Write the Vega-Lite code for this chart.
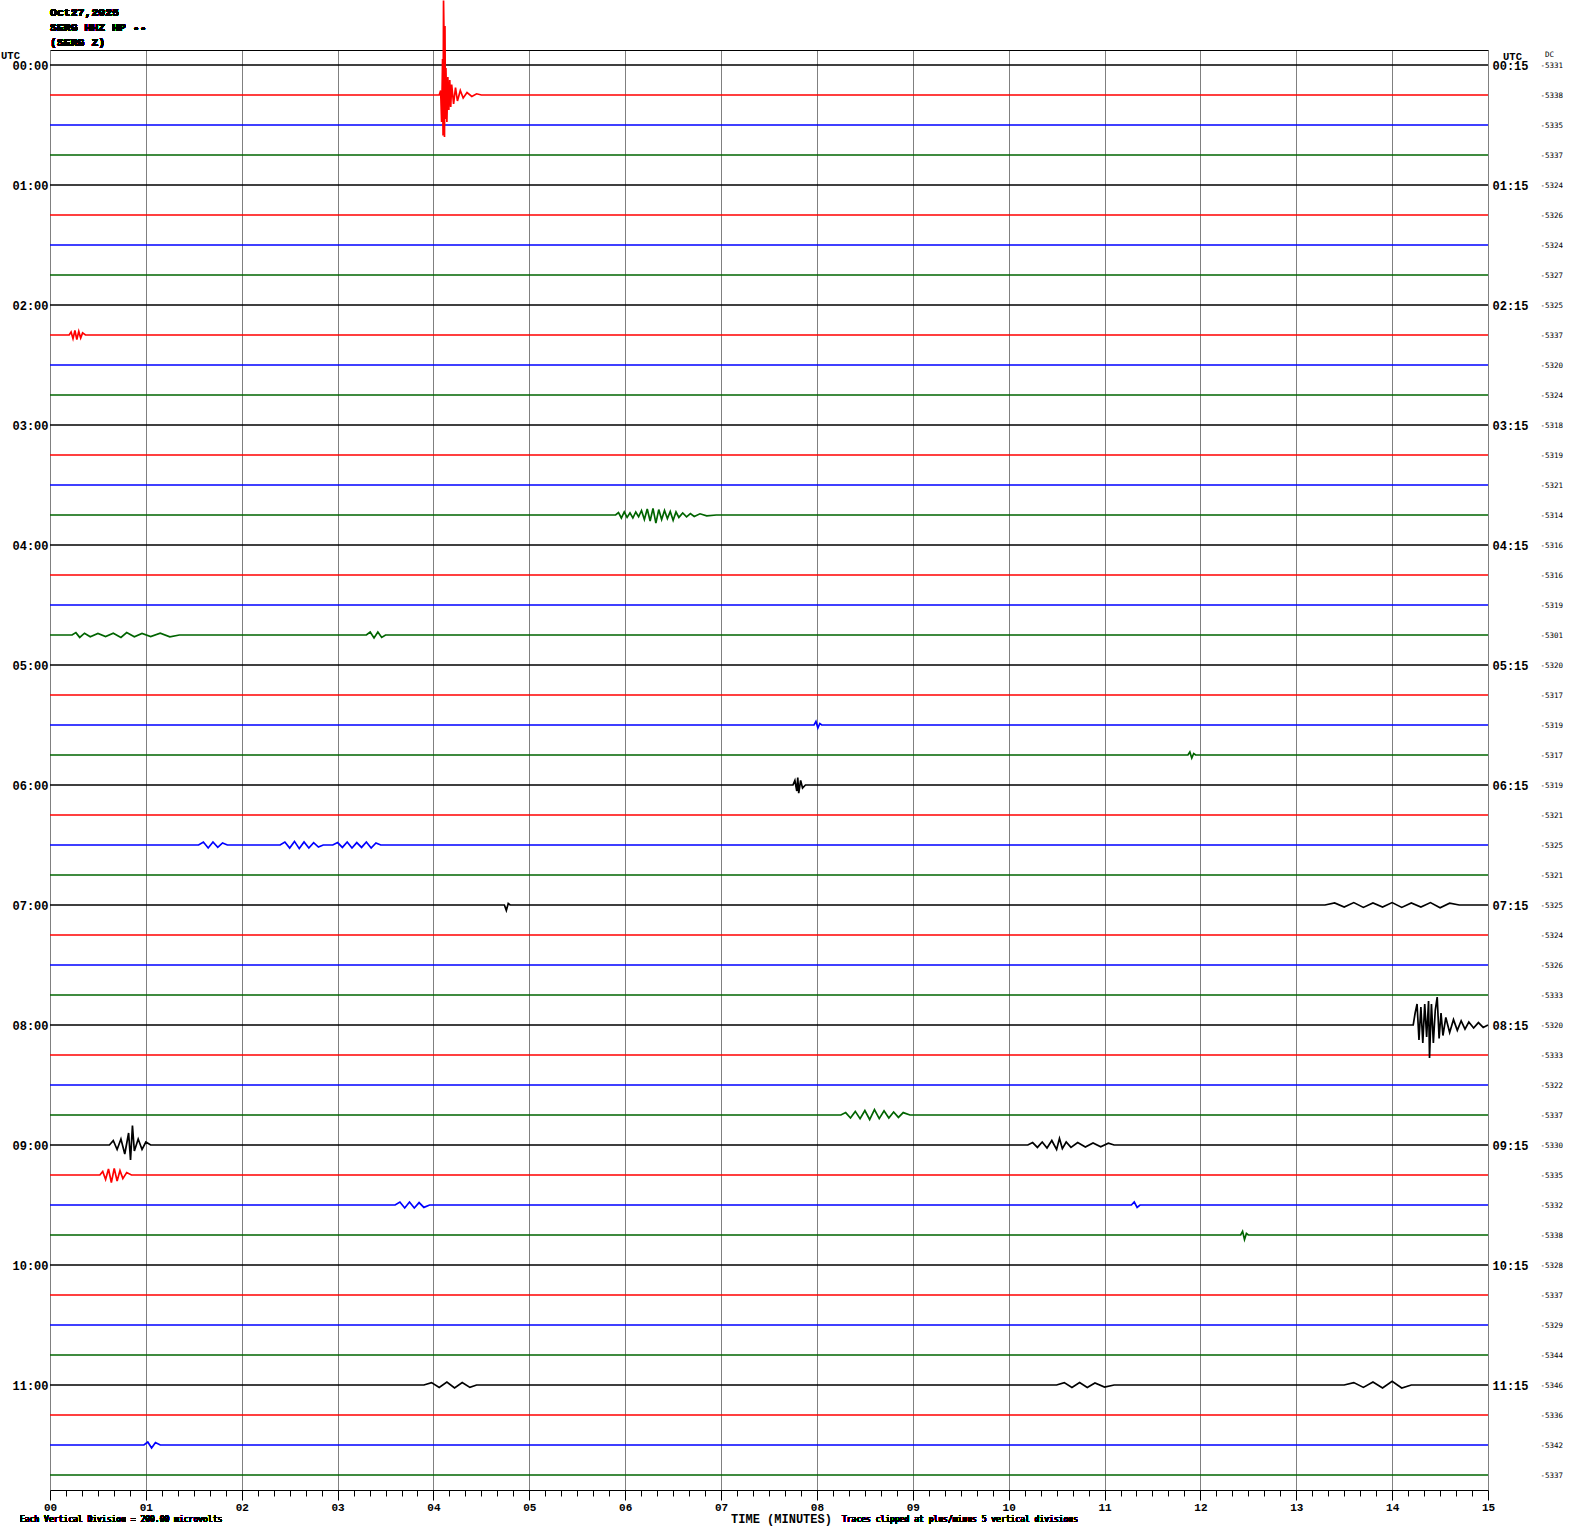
{
"$schema":"https://vega.github.io/schema/vega-lite/v6.json",
"width":1438,"height":1440,
"autosize":{"type":"none"},
"padding":{"left":50,"top":50,"right":82,"bottom":44},
"background":"#ffffff",
"config":{"view":{"stroke":null},"axis":{"labelFont":"Liberation Mono","titleFont":"Liberation Mono"}},
"data":{"values":[
{"r":0,"q":0,"t":0,"y":0},{"r":0,"q":0,"t":15,"y":0},
{"r":2,"q":2,"t":0,"y":2},{"r":2,"q":2,"t":15,"y":2},
{"r":3,"q":3,"t":0,"y":3},{"r":3,"q":3,"t":15,"y":3},
{"r":4,"q":0,"t":0,"y":4},{"r":4,"q":0,"t":15,"y":4},
{"r":5,"q":1,"t":0,"y":5},{"r":5,"q":1,"t":15,"y":5},
{"r":6,"q":2,"t":0,"y":6},{"r":6,"q":2,"t":15,"y":6},
{"r":7,"q":3,"t":0,"y":7},{"r":7,"q":3,"t":15,"y":7},
{"r":8,"q":0,"t":0,"y":8},{"r":8,"q":0,"t":15,"y":8},
{"r":10,"q":2,"t":0,"y":10},{"r":10,"q":2,"t":15,"y":10},
{"r":11,"q":3,"t":0,"y":11},{"r":11,"q":3,"t":15,"y":11},
{"r":12,"q":0,"t":0,"y":12},{"r":12,"q":0,"t":15,"y":12},
{"r":13,"q":1,"t":0,"y":13},{"r":13,"q":1,"t":15,"y":13},
{"r":14,"q":2,"t":0,"y":14},{"r":14,"q":2,"t":15,"y":14},
{"r":16,"q":0,"t":0,"y":16},{"r":16,"q":0,"t":15,"y":16},
{"r":17,"q":1,"t":0,"y":17},{"r":17,"q":1,"t":15,"y":17},
{"r":18,"q":2,"t":0,"y":18},{"r":18,"q":2,"t":15,"y":18},
{"r":20,"q":0,"t":0,"y":20},{"r":20,"q":0,"t":15,"y":20},
{"r":21,"q":1,"t":0,"y":21},{"r":21,"q":1,"t":15,"y":21},
{"r":25,"q":1,"t":0,"y":25},{"r":25,"q":1,"t":15,"y":25},
{"r":27,"q":3,"t":0,"y":27},{"r":27,"q":3,"t":15,"y":27},
{"r":29,"q":1,"t":0,"y":29},{"r":29,"q":1,"t":15,"y":29},
{"r":30,"q":2,"t":0,"y":30},{"r":30,"q":2,"t":15,"y":30},
{"r":31,"q":3,"t":0,"y":31},{"r":31,"q":3,"t":15,"y":31},
{"r":33,"q":1,"t":0,"y":33},{"r":33,"q":1,"t":15,"y":33},
{"r":34,"q":2,"t":0,"y":34},{"r":34,"q":2,"t":15,"y":34},
{"r":40,"q":0,"t":0,"y":40},{"r":40,"q":0,"t":15,"y":40},
{"r":41,"q":1,"t":0,"y":41},{"r":41,"q":1,"t":15,"y":41},
{"r":42,"q":2,"t":0,"y":42},{"r":42,"q":2,"t":15,"y":42},
{"r":43,"q":3,"t":0,"y":43},{"r":43,"q":3,"t":15,"y":43},
{"r":45,"q":1,"t":0,"y":45},{"r":45,"q":1,"t":15,"y":45},
{"r":47,"q":3,"t":0,"y":47},{"r":47,"q":3,"t":15,"y":47},
{"r":1,"q":1,"t":0,"y":1},{"r":1,"q":1,"t":4.06,"y":1},{"r":1,"q":1,"t":4.075,"y":0.85},{"r":1,"q":1,"t":4.085,"y":1.9},{"r":1,"q":1,"t":4.095,"y":-0.2},{"r":1,"q":1,"t":4.1,"y":2.35},{"r":1,"q":1,"t":4.105,"y":-2.15},{"r":1,"q":1,"t":4.11,"y":-1.0},{"r":1,"q":1,"t":4.115,"y":2.4},{"r":1,"q":1,"t":4.12,"y":-1.3},{"r":1,"q":1,"t":4.125,"y":1.8},{"r":1,"q":1,"t":4.13,"y":0.1},{"r":1,"q":1,"t":4.14,"y":1.9},{"r":1,"q":1,"t":4.15,"y":0.4},{"r":1,"q":1,"t":4.16,"y":1.5},{"r":1,"q":1,"t":4.17,"y":0.5},{"r":1,"q":1,"t":4.18,"y":1.4},{"r":1,"q":1,"t":4.19,"y":0.65},{"r":1,"q":1,"t":4.21,"y":1.3},{"r":1,"q":1,"t":4.23,"y":0.75},{"r":1,"q":1,"t":4.25,"y":1.2},{"r":1,"q":1,"t":4.28,"y":0.85},{"r":1,"q":1,"t":4.31,"y":1.1},{"r":1,"q":1,"t":4.35,"y":0.92},{"r":1,"q":1,"t":4.4,"y":1.05},{"r":1,"q":1,"t":4.45,"y":0.96},{"r":1,"q":1,"t":4.5,"y":1},{"r":1,"q":1,"t":15,"y":1},
{"r":9,"q":1,"t":0,"y":9},{"r":9,"q":1,"t":0.2,"y":9},{"r":9,"q":1,"t":0.22,"y":8.9},{"r":9,"q":1,"t":0.24,"y":9.12},{"r":9,"q":1,"t":0.26,"y":8.85},{"r":9,"q":1,"t":0.28,"y":9.15},{"r":9,"q":1,"t":0.3,"y":8.88},{"r":9,"q":1,"t":0.32,"y":9.1},{"r":9,"q":1,"t":0.34,"y":8.93},{"r":9,"q":1,"t":0.37,"y":9},{"r":9,"q":1,"t":15,"y":9},
{"r":15,"q":3,"t":0,"y":15},{"r":15,"q":3,"t":5.9,"y":15},{"r":15,"q":3,"t":5.93,"y":14.92},{"r":15,"q":3,"t":5.96,"y":15.1},{"r":15,"q":3,"t":5.99,"y":14.9},{"r":15,"q":3,"t":6.02,"y":15.08},{"r":15,"q":3,"t":6.05,"y":14.93},{"r":15,"q":3,"t":6.08,"y":15.1},{"r":15,"q":3,"t":6.11,"y":14.9},{"r":15,"q":3,"t":6.14,"y":15.06},{"r":15,"q":3,"t":6.17,"y":14.85},{"r":15,"q":3,"t":6.2,"y":15.15},{"r":15,"q":3,"t":6.23,"y":14.8},{"r":15,"q":3,"t":6.26,"y":15.2},{"r":15,"q":3,"t":6.29,"y":14.78},{"r":15,"q":3,"t":6.32,"y":15.27},{"r":15,"q":3,"t":6.35,"y":14.82},{"r":15,"q":3,"t":6.38,"y":15.15},{"r":15,"q":3,"t":6.41,"y":14.85},{"r":15,"q":3,"t":6.44,"y":15.12},{"r":15,"q":3,"t":6.47,"y":14.88},{"r":15,"q":3,"t":6.5,"y":15.18},{"r":15,"q":3,"t":6.53,"y":14.9},{"r":15,"q":3,"t":6.56,"y":15.08},{"r":15,"q":3,"t":6.6,"y":14.93},{"r":15,"q":3,"t":6.64,"y":15.06},{"r":15,"q":3,"t":6.68,"y":14.95},{"r":15,"q":3,"t":6.72,"y":15.05},{"r":15,"q":3,"t":6.78,"y":14.96},{"r":15,"q":3,"t":6.85,"y":15.03},{"r":15,"q":3,"t":6.95,"y":15},{"r":15,"q":3,"t":15,"y":15},
{"r":19,"q":3,"t":0,"y":19},{"r":19,"q":3,"t":0.23,"y":19},{"r":19,"q":3,"t":0.27,"y":18.92},{"r":19,"q":3,"t":0.31,"y":19.08},{"r":19,"q":3,"t":0.36,"y":18.94},{"r":19,"q":3,"t":0.42,"y":19.06},{"r":19,"q":3,"t":0.5,"y":18.95},{"r":19,"q":3,"t":0.58,"y":19.05},{"r":19,"q":3,"t":0.66,"y":18.94},{"r":19,"q":3,"t":0.74,"y":19.08},{"r":19,"q":3,"t":0.8,"y":18.92},{"r":19,"q":3,"t":0.88,"y":19.06},{"r":19,"q":3,"t":0.96,"y":18.95},{"r":19,"q":3,"t":1.05,"y":19.05},{"r":19,"q":3,"t":1.15,"y":18.94},{"r":19,"q":3,"t":1.25,"y":19.06},{"r":19,"q":3,"t":1.35,"y":19},{"r":19,"q":3,"t":3.3,"y":19},{"r":19,"q":3,"t":3.34,"y":18.9},{"r":19,"q":3,"t":3.38,"y":19.1},{"r":19,"q":3,"t":3.42,"y":18.9},{"r":19,"q":3,"t":3.46,"y":19.08},{"r":19,"q":3,"t":3.5,"y":19},{"r":19,"q":3,"t":15,"y":19},
{"r":22,"q":2,"t":0,"y":22},{"r":22,"q":2,"t":7.97,"y":22},{"r":22,"q":2,"t":7.99,"y":21.88},{"r":22,"q":2,"t":8.01,"y":22.1},{"r":22,"q":2,"t":8.03,"y":21.95},{"r":22,"q":2,"t":8.05,"y":22},{"r":22,"q":2,"t":15,"y":22},
{"r":23,"q":3,"t":0,"y":23},{"r":23,"q":3,"t":11.87,"y":23},{"r":23,"q":3,"t":11.89,"y":22.9},{"r":23,"q":3,"t":11.91,"y":23.1},{"r":23,"q":3,"t":11.93,"y":22.95},{"r":23,"q":3,"t":11.95,"y":23},{"r":23,"q":3,"t":15,"y":23},
{"r":24,"q":0,"t":0,"y":24},{"r":24,"q":0,"t":7.75,"y":24},{"r":24,"q":0,"t":7.77,"y":23.85},{"r":24,"q":0,"t":7.79,"y":24.2},{"r":24,"q":0,"t":7.8,"y":23.75},{"r":24,"q":0,"t":7.81,"y":24.27},{"r":24,"q":0,"t":7.83,"y":23.85},{"r":24,"q":0,"t":7.85,"y":24.1},{"r":24,"q":0,"t":7.88,"y":24},{"r":24,"q":0,"t":15,"y":24},
{"r":26,"q":2,"t":0,"y":26},{"r":26,"q":2,"t":1.55,"y":26},{"r":26,"q":2,"t":1.6,"y":25.9},{"r":26,"q":2,"t":1.65,"y":26.1},{"r":26,"q":2,"t":1.7,"y":25.9},{"r":26,"q":2,"t":1.75,"y":26.08},{"r":26,"q":2,"t":1.8,"y":25.93},{"r":26,"q":2,"t":1.85,"y":26},{"r":26,"q":2,"t":2.4,"y":26},{"r":26,"q":2,"t":2.45,"y":25.9},{"r":26,"q":2,"t":2.5,"y":26.1},{"r":26,"q":2,"t":2.55,"y":25.88},{"r":26,"q":2,"t":2.6,"y":26.12},{"r":26,"q":2,"t":2.65,"y":25.9},{"r":26,"q":2,"t":2.7,"y":26.1},{"r":26,"q":2,"t":2.75,"y":25.92},{"r":26,"q":2,"t":2.8,"y":26.07},{"r":26,"q":2,"t":2.85,"y":26},{"r":26,"q":2,"t":2.95,"y":26},{"r":26,"q":2,"t":3.0,"y":25.92},{"r":26,"q":2,"t":3.05,"y":26.08},{"r":26,"q":2,"t":3.1,"y":25.9},{"r":26,"q":2,"t":3.15,"y":26.1},{"r":26,"q":2,"t":3.2,"y":25.92},{"r":26,"q":2,"t":3.25,"y":26.08},{"r":26,"q":2,"t":3.3,"y":25.9},{"r":26,"q":2,"t":3.35,"y":26.1},{"r":26,"q":2,"t":3.4,"y":25.93},{"r":26,"q":2,"t":3.45,"y":26},{"r":26,"q":2,"t":15,"y":26},
{"r":28,"q":0,"t":0,"y":28},{"r":28,"q":0,"t":4.74,"y":28},{"r":28,"q":0,"t":4.76,"y":28.18},{"r":28,"q":0,"t":4.78,"y":27.95},{"r":28,"q":0,"t":4.8,"y":28},{"r":28,"q":0,"t":13.3,"y":28},{"r":28,"q":0,"t":13.4,"y":27.93},{"r":28,"q":0,"t":13.5,"y":28.07},{"r":28,"q":0,"t":13.6,"y":27.92},{"r":28,"q":0,"t":13.7,"y":28.08},{"r":28,"q":0,"t":13.8,"y":27.93},{"r":28,"q":0,"t":13.9,"y":28.07},{"r":28,"q":0,"t":14.0,"y":27.92},{"r":28,"q":0,"t":14.1,"y":28.08},{"r":28,"q":0,"t":14.2,"y":27.93},{"r":28,"q":0,"t":14.3,"y":28.07},{"r":28,"q":0,"t":14.4,"y":27.92},{"r":28,"q":0,"t":14.5,"y":28.09},{"r":28,"q":0,"t":14.6,"y":27.94},{"r":28,"q":0,"t":14.7,"y":28},{"r":28,"q":0,"t":15,"y":28},
{"r":32,"q":0,"t":0,"y":32},{"r":32,"q":0,"t":14.22,"y":32},{"r":32,"q":0,"t":14.24,"y":31.6},{"r":32,"q":0,"t":14.26,"y":31.3},{"r":32,"q":0,"t":14.28,"y":32.5},{"r":32,"q":0,"t":14.3,"y":31.4},{"r":32,"q":0,"t":14.32,"y":32.6},{"r":32,"q":0,"t":14.34,"y":31.3},{"r":32,"q":0,"t":14.36,"y":32.4},{"r":32,"q":0,"t":14.38,"y":31.2},{"r":32,"q":0,"t":14.39,"y":33.1},{"r":32,"q":0,"t":14.41,"y":31.3},{"r":32,"q":0,"t":14.43,"y":32.6},{"r":32,"q":0,"t":14.45,"y":31.5},{"r":32,"q":0,"t":14.47,"y":31.07},{"r":32,"q":0,"t":14.49,"y":32.45},{"r":32,"q":0,"t":14.51,"y":31.6},{"r":32,"q":0,"t":14.53,"y":32.35},{"r":32,"q":0,"t":14.56,"y":31.75},{"r":32,"q":0,"t":14.6,"y":32.25},{"r":32,"q":0,"t":14.64,"y":31.82},{"r":32,"q":0,"t":14.68,"y":32.18},{"r":32,"q":0,"t":14.72,"y":31.86},{"r":32,"q":0,"t":14.76,"y":32.14},{"r":32,"q":0,"t":14.8,"y":31.9},{"r":32,"q":0,"t":14.85,"y":32.1},{"r":32,"q":0,"t":14.9,"y":31.92},{"r":32,"q":0,"t":14.95,"y":32.08},{"r":32,"q":0,"t":15,"y":32},
{"r":35,"q":3,"t":0,"y":35},{"r":35,"q":3,"t":8.25,"y":35},{"r":35,"q":3,"t":8.3,"y":34.92},{"r":35,"q":3,"t":8.35,"y":35.1},{"r":35,"q":3,"t":8.4,"y":34.88},{"r":35,"q":3,"t":8.45,"y":35.12},{"r":35,"q":3,"t":8.5,"y":34.85},{"r":35,"q":3,"t":8.55,"y":35.15},{"r":35,"q":3,"t":8.6,"y":34.82},{"r":35,"q":3,"t":8.65,"y":35.12},{"r":35,"q":3,"t":8.7,"y":34.86},{"r":35,"q":3,"t":8.75,"y":35.1},{"r":35,"q":3,"t":8.8,"y":34.9},{"r":35,"q":3,"t":8.85,"y":35.08},{"r":35,"q":3,"t":8.9,"y":34.92},{"r":35,"q":3,"t":8.97,"y":35},{"r":35,"q":3,"t":15,"y":35},
{"r":36,"q":0,"t":0,"y":36},{"r":36,"q":0,"t":0.62,"y":36},{"r":36,"q":0,"t":0.66,"y":35.85},{"r":36,"q":0,"t":0.7,"y":36.15},{"r":36,"q":0,"t":0.74,"y":35.8},{"r":36,"q":0,"t":0.78,"y":36.3},{"r":36,"q":0,"t":0.82,"y":35.6},{"r":36,"q":0,"t":0.84,"y":36.5},{"r":36,"q":0,"t":0.86,"y":35.35},{"r":36,"q":0,"t":0.88,"y":36.2},{"r":36,"q":0,"t":0.92,"y":35.8},{"r":36,"q":0,"t":0.96,"y":36.15},{"r":36,"q":0,"t":1.0,"y":35.9},{"r":36,"q":0,"t":1.05,"y":36},{"r":36,"q":0,"t":10.2,"y":36},{"r":36,"q":0,"t":10.25,"y":35.92},{"r":36,"q":0,"t":10.3,"y":36.08},{"r":36,"q":0,"t":10.35,"y":35.9},{"r":36,"q":0,"t":10.4,"y":36.1},{"r":36,"q":0,"t":10.45,"y":35.85},{"r":36,"q":0,"t":10.5,"y":36.15},{"r":36,"q":0,"t":10.53,"y":35.78},{"r":36,"q":0,"t":10.56,"y":36.12},{"r":36,"q":0,"t":10.6,"y":35.9},{"r":36,"q":0,"t":10.65,"y":36.08},{"r":36,"q":0,"t":10.72,"y":35.92},{"r":36,"q":0,"t":10.8,"y":36.07},{"r":36,"q":0,"t":10.88,"y":35.93},{"r":36,"q":0,"t":10.96,"y":36.06},{"r":36,"q":0,"t":11.04,"y":35.94},{"r":36,"q":0,"t":11.1,"y":36},{"r":36,"q":0,"t":15,"y":36},
{"r":37,"q":1,"t":0,"y":37},{"r":37,"q":1,"t":0.52,"y":37},{"r":37,"q":1,"t":0.55,"y":36.88},{"r":37,"q":1,"t":0.58,"y":37.15},{"r":37,"q":1,"t":0.61,"y":36.8},{"r":37,"q":1,"t":0.64,"y":37.25},{"r":37,"q":1,"t":0.67,"y":36.78},{"r":37,"q":1,"t":0.7,"y":37.2},{"r":37,"q":1,"t":0.73,"y":36.85},{"r":37,"q":1,"t":0.76,"y":37.12},{"r":37,"q":1,"t":0.8,"y":36.92},{"r":37,"q":1,"t":0.85,"y":37},{"r":37,"q":1,"t":15,"y":37},
{"r":38,"q":2,"t":0,"y":38},{"r":38,"q":2,"t":3.6,"y":38},{"r":38,"q":2,"t":3.65,"y":37.9},{"r":38,"q":2,"t":3.7,"y":38.1},{"r":38,"q":2,"t":3.75,"y":37.9},{"r":38,"q":2,"t":3.8,"y":38.1},{"r":38,"q":2,"t":3.85,"y":37.92},{"r":38,"q":2,"t":3.9,"y":38.08},{"r":38,"q":2,"t":3.96,"y":38},{"r":38,"q":2,"t":11.28,"y":38},{"r":38,"q":2,"t":11.31,"y":37.9},{"r":38,"q":2,"t":11.34,"y":38.08},{"r":38,"q":2,"t":11.37,"y":38},{"r":38,"q":2,"t":15,"y":38},
{"r":39,"q":3,"t":0,"y":39},{"r":39,"q":3,"t":12.42,"y":39},{"r":39,"q":3,"t":12.44,"y":38.88},{"r":39,"q":3,"t":12.46,"y":39.15},{"r":39,"q":3,"t":12.48,"y":38.95},{"r":39,"q":3,"t":12.5,"y":39},{"r":39,"q":3,"t":15,"y":39},
{"r":44,"q":0,"t":0,"y":44},{"r":44,"q":0,"t":3.9,"y":44},{"r":44,"q":0,"t":3.98,"y":43.92},{"r":44,"q":0,"t":4.06,"y":44.08},{"r":44,"q":0,"t":4.14,"y":43.9},{"r":44,"q":0,"t":4.22,"y":44.1},{"r":44,"q":0,"t":4.3,"y":43.92},{"r":44,"q":0,"t":4.38,"y":44.08},{"r":44,"q":0,"t":4.45,"y":44},{"r":44,"q":0,"t":10.5,"y":44},{"r":44,"q":0,"t":10.58,"y":43.92},{"r":44,"q":0,"t":10.66,"y":44.08},{"r":44,"q":0,"t":10.74,"y":43.92},{"r":44,"q":0,"t":10.82,"y":44.08},{"r":44,"q":0,"t":10.9,"y":43.93},{"r":44,"q":0,"t":11.0,"y":44.07},{"r":44,"q":0,"t":11.1,"y":44},{"r":44,"q":0,"t":13.5,"y":44},{"r":44,"q":0,"t":13.6,"y":43.92},{"r":44,"q":0,"t":13.7,"y":44.08},{"r":44,"q":0,"t":13.8,"y":43.9},{"r":44,"q":0,"t":13.9,"y":44.1},{"r":44,"q":0,"t":14.0,"y":43.88},{"r":44,"q":0,"t":14.1,"y":44.1},{"r":44,"q":0,"t":14.2,"y":44},{"r":44,"q":0,"t":15,"y":44},
{"r":46,"q":2,"t":0,"y":46},{"r":46,"q":2,"t":0.98,"y":46},{"r":46,"q":2,"t":1.02,"y":45.9},{"r":46,"q":2,"t":1.06,"y":46.1},{"r":46,"q":2,"t":1.1,"y":45.92},{"r":46,"q":2,"t":1.15,"y":46},{"r":46,"q":2,"t":15,"y":46}
]},
"resolve":{"axis":{"x":"independent","y":"independent"}},
"layer":[
{"mark":{"type":"line","strokeWidth":1.7,"interpolate":"linear"},
 "encoding":{
  "x":{"field":"t","type":"quantitative","scale":{"domain":[0,15],"nice":false,"zero":false},
   "axis":{"orient":"bottom","values":[0,0.1667,0.3333,0.5,0.6667,0.8333,1,1.1667,1.3333,1.5,1.6667,1.8333,2,2.1667,2.3333,2.5,2.6667,2.8333,3,3.1667,3.3333,3.5,3.6667,3.8333,4,4.1667,4.3333,4.5,4.6667,4.8333,5,5.1667,5.3333,5.5,5.6667,5.8333,6,6.1667,6.3333,6.5,6.6667,6.8333,7,7.1667,7.3333,7.5,7.6667,7.8333,8,8.1667,8.3333,8.5,8.6667,8.8333,9,9.1667,9.3333,9.5,9.6667,9.8333,10,10.1667,10.3333,10.5,10.6667,10.8333,11,11.1667,11.3333,11.5,11.6667,11.8333,12,12.1667,12.3333,12.5,12.6667,12.8333,13,13.1667,13.3333,13.5,13.6667,13.8333,14,14.1667,14.3333,14.5,14.6667,14.8333,15],
    "labelExpr":"abs(datum.value-round(datum.value))<0.001 ? (round(datum.value)<10?'0':'')+round(datum.value) : ''",
    "labelOverlap":false,"labelFlush":false,"labelBound":false,
    "labelFont":"Liberation Mono","labelFontWeight":"bold","labelFontSize":11,"labelColor":"#000000","labelPadding":1,
    "domain":true,"domainColor":"#000000","domainWidth":1,
    "ticks":true,"tickColor":"#000000","tickWidth":1,
    "tickSize":{"condition":{"test":"abs(datum.value-round(datum.value))<0.001","value":10},"value":6},
    "grid":true,"gridColor":"#808080","gridWidth":1,
    "gridOpacity":{"condition":{"test":"abs(datum.value-round(datum.value))<0.001","value":1},"value":0},
    "title":"TIME (MINUTES)","titleFont":"Liberation Mono","titleFontWeight":"bold","titleFontSize":12,"titleColor":"#000000",
    "titleX":731,"titleY":32,"titleAlign":"center","titleBaseline":"alphabetic","titleAnchor":null}},
  "y":{"field":"y","type":"quantitative","scale":{"domain":[-0.5,47.5],"reverse":true,"nice":false,"zero":false},
   "axis":{"orient":"left","values":[0,4,8,12,16,20,24,28,32,36,40,44],
    "labelExpr":"(datum.value<40?'0':'')+floor(datum.value/4)+':00'",
    "labelFont":"Liberation Mono","labelFontWeight":"bold","labelFontSize":12,"labelColor":"#000000","labelPadding":2,"labelBaseline":"middle",
    "ticks":false,"domain":false,"grid":false,
    "title":"UTC","titleAngle":0,"titleX":-40,"titleY":8,"titleAlign":"center","titleBaseline":"alphabetic","titleFont":"Liberation Mono","titleFontWeight":"bold","titleFontSize":10.5,"titleColor":"#000000"}},
  "color":{"field":"q","type":"nominal","scale":{"domain":[0,1,2,3],"range":["#000000","#ff0000","#0000ff","#006400"]},"legend":null},
  "detail":{"field":"r","type":"nominal"}
 }},
{"mark":{"type":"line","strokeOpacity":0},
 "encoding":{
  "x":{"field":"t","type":"quantitative","scale":{"domain":[0,15],"nice":false,"zero":false},
   "axis":{"orient":"top","domain":true,"domainColor":"#000000","domainWidth":1,"ticks":false,"labels":false,"grid":false,"title":null}},
  "y":{"field":"y","type":"quantitative","scale":{"domain":[-0.5,47.5],"reverse":true,"nice":false,"zero":false},
   "axis":{"orient":"right","values":[0,4,8,12,16,20,24,28,32,36,40,44],
    "labelExpr":"(datum.value<40?'0':'')+floor(datum.value/4)+':15'",
    "labelFont":"Liberation Mono","labelFontWeight":"bold","labelFontSize":12,"labelColor":"#000000","labelPadding":4,"labelBaseline":"middle","labelAlign":"left",
    "ticks":false,"domain":false,"grid":false,
    "title":"UTC","titleAngle":0,"titleX":24,"titleY":9,"titleAlign":"center","titleBaseline":"alphabetic","titleFont":"Liberation Mono","titleFontWeight":"bold","titleFontSize":10.5,"titleColor":"#000000"}},
  "detail":{"field":"r","type":"nominal"}
 }},
{"mark":{"type":"line","strokeOpacity":0},
 "encoding":{
  "x":{"field":"t","type":"quantitative","scale":{"domain":[0,15],"nice":false,"zero":false},"axis":null},
  "y":{"field":"y","type":"quantitative","scale":{"domain":[-0.5,47.5],"reverse":true,"nice":false,"zero":false},
   "axis":{"orient":"right","values":[0,1,2,3,4,5,6,7,8,9,10,11,12,13,14,15,16,17,18,19,20,21,22,23,24,25,26,27,28,29,30,31,32,33,34,35,36,37,38,39,40,41,42,43,44,45,46,47],
    "labelExpr":"['-5331','-5338','-5335','-5337','-5324','-5326','-5324','-5327','-5325','-5337','-5320','-5324','-5318','-5319','-5321','-5314','-5316','-5316','-5319','-5301','-5320','-5317','-5319','-5317','-5319','-5321','-5325','-5321','-5325','-5324','-5326','-5333','-5320','-5333','-5322','-5337','-5330','-5335','-5332','-5338','-5328','-5337','-5329','-5344','-5346','-5336','-5342','-5337'][datum.value]",
    "labelFont":"DejaVu Sans Mono","labelFontSize":7.5,"labelColor":"#000000","labelPadding":52,"labelBaseline":"middle","labelAlign":"left","labelOverlap":false,
    "ticks":false,"domain":false,"grid":false,
    "title":"DC","titleAngle":0,"titleX":61,"titleY":6,"titleAlign":"center","titleBaseline":"alphabetic","titleFont":"DejaVu Sans Mono","titleFontWeight":"normal","titleFontSize":7.5,"titleColor":"#000000"}},
  "detail":{"field":"r","type":"nominal"}
 }},
{"mark":{"type":"text","align":"left","baseline":"alphabetic","font":"Liberation Mono","fontSize":11.5,"fontWeight":"bold","lineHeight":15,"color":"#000000"},
 "encoding":{
  "x":{"datum":0,"type":"quantitative","axis":null},
  "y":{"datum":-1.633,"type":"quantitative","axis":null},
  "text":{"value":["Oct27,2025","SERG HHZ HP --","(SERG Z)"]}}},
{"mark":{"type":"text","align":"left","baseline":"alphabetic","font":"DejaVu Sans Mono","fontSize":8,"fontWeight":"normal","color":"#000000"},
 "encoding":{
  "x":{"datum":-0.313,"type":"quantitative","axis":null},
  "y":{"datum":48.57,"type":"quantitative","axis":null},
  "text":{"value":"Each Vertical Division =  200.00 microvolts"}}},
{"mark":{"type":"text","align":"left","baseline":"alphabetic","font":"DejaVu Sans Mono","fontSize":8,"fontWeight":"normal","color":"#000000"},
 "encoding":{
  "x":{"datum":8.261,"type":"quantitative","axis":null},
  "y":{"datum":48.57,"type":"quantitative","axis":null},
  "text":{"value":"Traces clipped at plus/minus 5 vertical divisions"}}}
]
}
